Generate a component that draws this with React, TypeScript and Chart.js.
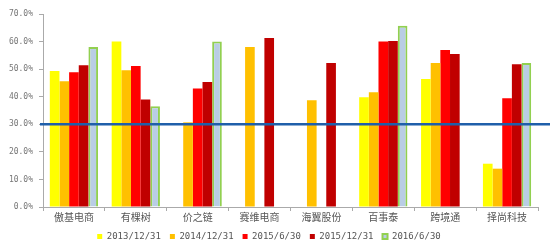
import React, { useEffect, useRef } from "react";
import { Chart, registerables } from "chart.js";

Chart.register(...registerables);

const categories = ["傲基电商", "有棵树", "价之链", "赛维电商", "海翼股份", "百事泰", "跨境通", "择尚科技"];
const seriesNames = ["2013/12/31", "2014/12/31", "2015/6/30", "2015/12/31", "2016/6/30"];
const s2013_12 = [49.3, 60.0, null, null, null, 39.8, 46.4, 15.7];
const s2014_12 = [45.6, 49.6, 30.7, 58.0, 38.7, 41.6, 52.2, 13.9];
const s2015_06 = [48.9, 51.1, 43.0, null, null, 60.0, 56.9, 39.4];
const s2015_12 = [51.4, 39.0, 45.3, 61.3, 52.2, 60.2, 55.5, 51.8];
const s2016_06 = [58.0, 36.5, 60.0, null, null, 65.7, null, 52.2];
const yTicks = [0, 10, 20, 30, 40, 50, 60, 70];
const thresholdValue = 30;

const fills = ["#FFFF00", "#FFC000", "#FF0000", "#C00000", "#B9CDE5"];
const borders = ["#FFFF00", "#FFC000", "#FF0000", "#C00000", "#92D050"];

const thresholdPlugin = {
  id: "threshold",
  afterDatasetsDraw(chart: any) {
    const y = chart.scales.y.getPixelForValue(thresholdValue);
    const ctx = chart.ctx;
    ctx.save();
    ctx.strokeStyle = "#1F5FAA";
    ctx.lineWidth = 2.5;
    ctx.beginPath();
    ctx.moveTo(chart.chartArea.left - 3, y);
    ctx.lineTo(chart.width, y);
    ctx.stroke();
    ctx.restore();
  },
};

export default function App() {
  const ref = useRef<HTMLCanvasElement>(null);
  useEffect(() => {
    const data = [s2013_12, s2014_12, s2015_06, s2015_12, s2016_06];
    const chart = new Chart(ref.current!, {
      type: "bar",
      data: {
        labels: categories,
        datasets: seriesNames.map((name, i) => ({
          label: name,
          data: data[i],
          backgroundColor: fills[i],
          borderColor: borders[i],
          borderWidth: i === 4 ? 2 : 0,
          categoryPercentage: 0.78,
          barPercentage: 1,
        })),
      },
      options: {
        animation: false,
        responsive: false,
        maintainAspectRatio: false,
        layout: { padding: { left: 0, right: 12, top: 14, bottom: -6 } },
        plugins: {
          legend: {
            position: "bottom",
            labels: {
              boxWidth: 5,
              boxHeight: 5,
              padding: 9,
              color: "#555",
              font: { family: "DejaVu Sans Mono", size: 9, lineHeight: 1 },
            },
          },
          tooltip: { enabled: false },
        },
        scales: {
          x: {
            grid: { drawOnChartArea: false, tickLength: 4, color: "#AAAAAA", offset: true },
            border: { color: "#AAAAAA" },
            ticks: {
              color: "#555",
              padding: 0,
              font: { family: "Noto Sans CJK SC", size: 10, lineHeight: 1.2 },
            },
          },
          y: {
            min: 0,
            max: 70,
            afterBuildTicks: (s: any) => {
              s.ticks = yTicks.map((v) => ({ value: v }));
            },
            afterFit: (s: any) => {
              s.width = 43;
            },
            grid: { drawOnChartArea: false, tickLength: 4, color: "#AAAAAA" },
            border: { color: "#AAAAAA" },
            ticks: {
              color: "#777",
              padding: 6,
              font: { family: "DejaVu Sans Mono", size: 8 },
              callback: (v: any) => Number(v).toFixed(1) + "%",
            },
          },
        },
      },
      plugins: [thresholdPlugin],
    });
    return () => chart.destroy();
  }, []);
  return (
    <div style={{ position: "fixed", left: 0, top: 0, width: 550, height: 245, background: "#fff" }}>
      <canvas ref={ref} width={550} height={245} />
    </div>
  );
}
